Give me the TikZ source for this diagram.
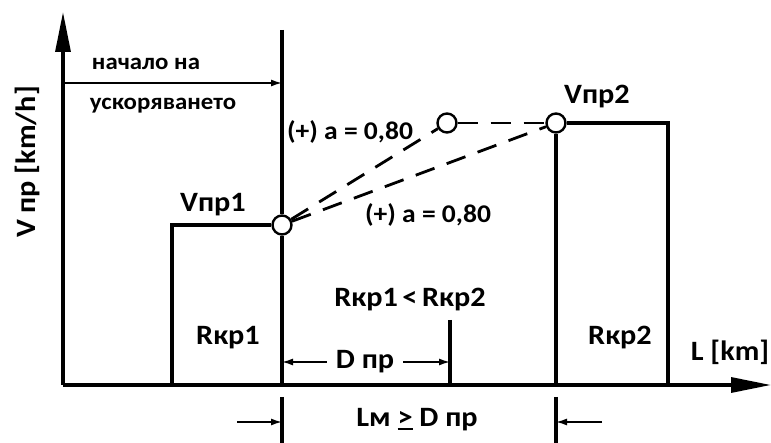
\documentclass[tikz,border=0pt]{standalone}
\usepackage{fontspec}
\setmainfont{Carlito}[FakeStretch=1.08]
\usetikzlibrary{arrows.meta}
\newcommand{\ulgeq}{{\setbox0\hbox{>}\rlap{\rule[-3pt]{\wd0}{1.6pt}}\box0}}
\begin{document}
\begin{tikzpicture}[x=1pt,y=-1pt,
  line/.style={line width=3.2pt},
  dsh/.style={line width=2.8pt,dash pattern=on 20pt off 13pt},
  dim/.style={line width=1.6pt,-{Latex[length=11pt,width=7pt]}},
  axis/.style={line width=3.2pt,-{Triangle[length=40pt,width=15pt]}},
  lbl/.style={font=\bfseries\fontsize{28}{30}\selectfont,inner sep=0pt},
  albl/.style={font=\bfseries\fontsize{25.5}{28}\selectfont,inner sep=0pt},
  sml/.style={font=\bfseries\fontsize{23}{26}\selectfont,inner sep=0pt},
  pt/.style={circle,draw,line width=2.4pt,fill=white,minimum size=19pt,inner sep=0pt}]
\useasboundingbox (0,0) rectangle (771,443);
% key points
\coordinate (O) at (63,385);
\coordinate (ytip) at (63,12);
\coordinate (xtip) at (771,385);
\coordinate (vtop) at (282,30);
\coordinate (v1b) at (282,385);
\coordinate (r1tl) at (172,225);
\coordinate (r1bl) at (172,385);
\coordinate (r2tr) at (668,123);
\coordinate (r2br) at (668,385);
\coordinate (r2bl) at (556,385);
\coordinate (dtop) at (450,320);
\coordinate (dbot) at (450,385);
\coordinate (as) at (63,83);
\coordinate (ae) at (282,83);
\coordinate (l1t) at (282,397);
\coordinate (l1b) at (282,443);
\coordinate (l2t) at (556,397);
\coordinate (l2b) at (556,443);
\coordinate (la1) at (237,422);
\coordinate (la1e) at (282,422);
\coordinate (la2) at (602,422);
\coordinate (la2e) at (556,422);
\coordinate (dl) at (282,362);
\coordinate (dr) at (450,362);
% circles
\node[pt] (c1) at (282,225) {};
\node[pt] (cm) at (447,123) {};
\node[pt] (c2) at (556,123) {};
% axes
\draw[axis] (O) -- (ytip);
\draw[axis] (O) -- (xtip);
% structure
\draw[line] (vtop) -- (c1) -- (v1b);
\draw[line] (r1bl) -- (r1tl) -- (c1);
\draw[line] (r2bl) -- (c2) -- (r2tr) -- (r2br);
\draw[line] (dtop) -- (dbot);
\draw[line] (l1t) -- (l1b);
\draw[line] (l2t) -- (l2b);
% dashed acceleration lines
\draw[dsh] (c1) -- (cm);
\draw[dsh] (c1) -- (c2);
\draw[dsh] (cm) -- (c2);
% arrows
\draw[dim] (as) -- (ae);
\draw[dim] (la1) -- (la1e);
\draw[dim] (la2) -- (la2e);
% labels
\node[sml] (t1) at (146,64) {начало на};
\node[sml] (t2) at (163,106) {ускоряването};
\node[lbl] (vp1) at (213,205) {Vпр1};
\node[lbl] (vp2) at (597,97) {Vпр2};
\node[albl] (a1) at (350,132) {(+) a = 0,80};
\node[albl] (a2) at (428,215) {(+) a = 0,80};
\node[lbl] (rk1) at (228,338) {Rкр1};
\node[lbl] (rk12) at (410,300) {Rкр1\,<\,Rкр2};
\node[lbl] (rk2) at (620,338) {Rкр2};
\node[lbl] (lkm) at (730,352) {L [km]};
\node[lbl,inner xsep=9pt] (dpr) at (365,362) {D пр};
\draw[dim] (dpr.west) -- (dl);
\draw[dim] (dpr.east) -- (dr);
\node[lbl] (lm) at (417,420) {Lм \ulgeq{} D пр};
\node[lbl,rotate=90] (ylab) at (27,162) {V пр [km/h]};
\end{tikzpicture}
\end{document}
